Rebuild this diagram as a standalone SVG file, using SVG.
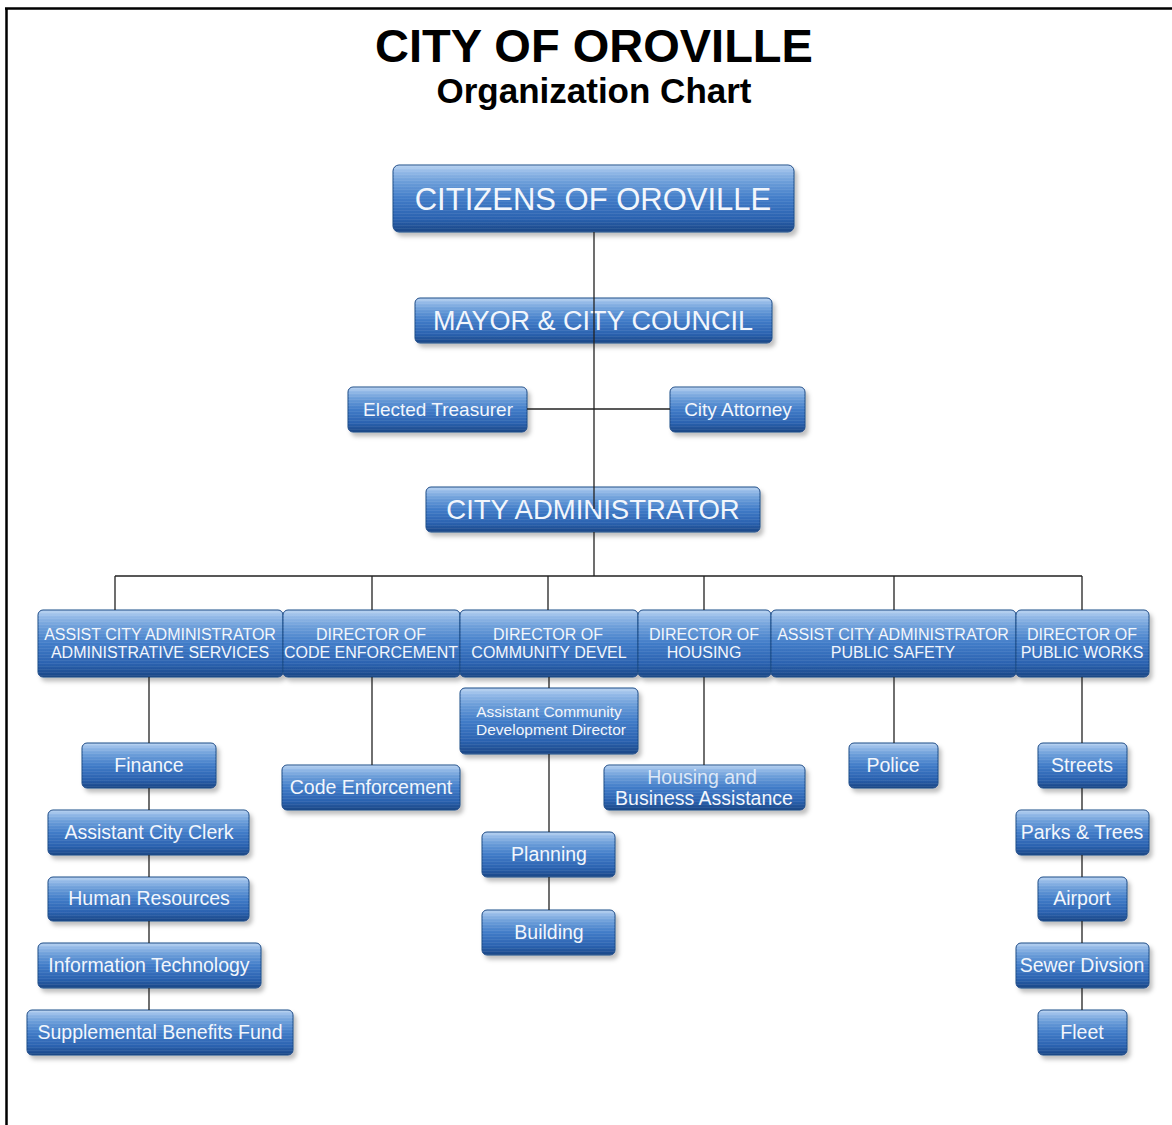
<svg xmlns="http://www.w3.org/2000/svg" width="1172" height="1125" viewBox="0 0 1172 1125">
<style>
.box{fill:url(#bg);stroke:#1d4a86;stroke-width:1;filter:url(#sh)}
.t{font-family:"Liberation Sans",Arial,sans-serif;fill:#f2f6fc;text-anchor:middle}
.title{font-family:"Liberation Sans",Arial,sans-serif;font-weight:bold;fill:#000;text-anchor:middle}
.c{stroke:#222;stroke-width:1.3;fill:none}
</style>
<defs>
<linearGradient id="bg" x1="0" y1="0" x2="0" y2="1">
<stop offset="0" stop-color="#bcd5f2"/>
<stop offset="0.1" stop-color="#93b9e7"/>
<stop offset="0.25" stop-color="#6c9ed9"/>
<stop offset="0.5" stop-color="#417cc8"/>
<stop offset="0.8" stop-color="#2b62b0"/>
<stop offset="1" stop-color="#1a4685"/>
</linearGradient>
<pattern id="stp" width="4" height="3" patternUnits="userSpaceOnUse">
<rect width="4" height="1" fill="#ffffff" fill-opacity="0.07"/>
</pattern>
<filter id="sh" x="-10%" y="-20%" width="130%" height="160%">
<feDropShadow dx="3" dy="4" stdDeviation="2" flood-color="#000" flood-opacity="0.25"/>
</filter>
</defs>
<rect width="1172" height="1125" fill="#fff"/>
<path d="M5 8.5H1172M6.5 8V1125" stroke="#000" stroke-width="2.5" fill="none"/>
<text class="title" x="594" y="62" font-size="47">CITY OF OROVILLE</text>
<text class="title" x="594" y="103" font-size="35">Organization Chart</text>

<g id="nodes">
<g id="citizens"><rect class="box" x="393" y="165" width="401" height="67" rx="6"/><rect x="393" y="165" width="401" height="67" rx="6" fill="url(#stp)"/><text class="t" x="593" y="210" font-size="31">CITIZENS OF OROVILLE</text></g>
<g id="mayor"><rect class="box" x="415" y="298" width="357" height="45" rx="5"/><rect x="415" y="298" width="357" height="45" rx="5" fill="url(#stp)"/><text class="t" x="593" y="330" font-size="27">MAYOR &amp; CITY COUNCIL</text></g>
<g id="treasurer"><rect class="box" x="348" y="387" width="179" height="45" rx="5"/><rect x="348" y="387" width="179" height="45" rx="5" fill="url(#stp)"/><text class="t" x="438" y="416" font-size="19">Elected Treasurer</text></g>
<g id="attorney"><rect class="box" x="670" y="387" width="135" height="45" rx="5"/><rect x="670" y="387" width="135" height="45" rx="5" fill="url(#stp)"/><text class="t" x="738" y="416" font-size="19">City Attorney</text></g>
<g id="cityadmin"><rect class="box" x="426" y="487" width="334" height="45" rx="5"/><rect x="426" y="487" width="334" height="45" rx="5" fill="url(#stp)"/><text class="t" x="593" y="519" font-size="27.5">CITY ADMINISTRATOR</text></g>

<g id="adminsvc"><rect class="box" x="38" y="610" width="245" height="67" rx="5"/><rect x="38" y="610" width="245" height="67" rx="5" fill="url(#stp)"/><text class="t" x="160" y="639.5" font-size="16">ASSIST CITY ADMINISTRATOR</text><text class="t" x="160" y="657.5" font-size="16">ADMINISTRATIVE SERVICES</text></g>
<g id="codedir"><rect class="box" x="283" y="610" width="177" height="67" rx="5"/><rect x="283" y="610" width="177" height="67" rx="5" fill="url(#stp)"/><text class="t" x="371" y="639.5" font-size="16">DIRECTOR OF</text><text class="t" x="371" y="657.5" font-size="16">CODE ENFORCEMENT</text></g>
<g id="commdev"><rect class="box" x="460" y="610" width="178" height="67" rx="5"/><rect x="460" y="610" width="178" height="67" rx="5" fill="url(#stp)"/><text class="t" x="548" y="639.5" font-size="16">DIRECTOR OF</text><text class="t" x="549" y="657.5" font-size="16">COMMUNITY DEVEL</text></g>
<g id="housingdir"><rect class="box" x="638" y="610" width="133" height="67" rx="5"/><rect x="638" y="610" width="133" height="67" rx="5" fill="url(#stp)"/><text class="t" x="704" y="639.5" font-size="16">DIRECTOR OF</text><text class="t" x="704" y="657.5" font-size="16">HOUSING</text></g>
<g id="publicsafety"><rect class="box" x="771" y="610" width="245" height="67" rx="5"/><rect x="771" y="610" width="245" height="67" rx="5" fill="url(#stp)"/><text class="t" x="893" y="639.5" font-size="16">ASSIST CITY ADMINISTRATOR</text><text class="t" x="893" y="657.5" font-size="16">PUBLIC SAFETY</text></g>
<g id="publicworks"><rect class="box" x="1016" y="610" width="133" height="67" rx="5"/><rect x="1016" y="610" width="133" height="67" rx="5" fill="url(#stp)"/><text class="t" x="1082" y="639.5" font-size="16">DIRECTOR OF</text><text class="t" x="1082" y="657.5" font-size="16">PUBLIC WORKS</text></g>

<g id="finance"><rect class="box" x="82" y="743" width="134" height="45" rx="5"/><rect x="82" y="743" width="134" height="45" rx="5" fill="url(#stp)"/><text class="t" x="149" y="772" font-size="19.5">Finance</text></g>
<g id="clerk"><rect class="box" x="48" y="810" width="201" height="45" rx="5"/><rect x="48" y="810" width="201" height="45" rx="5" fill="url(#stp)"/><text class="t" x="149" y="839" font-size="19.5">Assistant City Clerk</text></g>
<g id="hr"><rect class="box" x="48" y="877" width="201" height="44" rx="5"/><rect x="48" y="877" width="201" height="44" rx="5" fill="url(#stp)"/><text class="t" x="149" y="905" font-size="19.5">Human Resources</text></g>
<g id="it"><rect class="box" x="38" y="943" width="223" height="45" rx="5"/><rect x="38" y="943" width="223" height="45" rx="5" fill="url(#stp)"/><text class="t" x="149" y="972" font-size="19.5">Information Technology</text></g>
<g id="sbf"><rect class="box" x="27" y="1010" width="266" height="45" rx="5"/><rect x="27" y="1010" width="266" height="45" rx="5" fill="url(#stp)"/><text class="t" x="160" y="1039" font-size="19.5">Supplemental Benefits Fund</text></g>

<g id="codeenf"><rect class="box" x="282" y="765" width="178" height="45" rx="5"/><rect x="282" y="765" width="178" height="45" rx="5" fill="url(#stp)"/><text class="t" x="371" y="794" font-size="19.5">Code Enforcement</text></g>

<g id="asstcomm"><rect class="box" x="460" y="688" width="178" height="66" rx="5"/><rect x="460" y="688" width="178" height="66" rx="5" fill="url(#stp)"/><text class="t" x="549" y="716.5" font-size="15.5">Assistant Community</text><text class="t" x="551" y="734.5" font-size="15.5">Development Director</text></g>
<g id="planning"><rect class="box" x="482" y="832" width="133" height="45" rx="5"/><rect x="482" y="832" width="133" height="45" rx="5" fill="url(#stp)"/><text class="t" x="549" y="861" font-size="19.5">Planning</text></g>
<g id="building"><rect class="box" x="482" y="910" width="133" height="45" rx="5"/><rect x="482" y="910" width="133" height="45" rx="5" fill="url(#stp)"/><text class="t" x="549" y="939" font-size="19.5">Building</text></g>

<g id="housingbiz"><rect class="box" x="604" y="765" width="201" height="45" rx="5"/><rect x="604" y="765" width="201" height="45" rx="5" fill="url(#stp)"/><text class="t" x="702" y="784" font-size="19.5" fill-opacity="0.85">Housing and</text><text class="t" x="704" y="805" font-size="19.5">Business Assistance</text></g>

<g id="police"><rect class="box" x="849" y="743" width="89" height="45" rx="5"/><rect x="849" y="743" width="89" height="45" rx="5" fill="url(#stp)"/><text class="t" x="893" y="772" font-size="19.5">Police</text></g>

<g id="streets"><rect class="box" x="1038" y="743" width="89" height="45" rx="5"/><rect x="1038" y="743" width="89" height="45" rx="5" fill="url(#stp)"/><text class="t" x="1082" y="772" font-size="19.5">Streets</text></g>
<g id="parks"><rect class="box" x="1016" y="810" width="133" height="45" rx="5"/><rect x="1016" y="810" width="133" height="45" rx="5" fill="url(#stp)"/><text class="t" x="1082" y="839" font-size="19.5">Parks &amp; Trees</text></g>
<g id="airport"><rect class="box" x="1038" y="877" width="89" height="44" rx="5"/><rect x="1038" y="877" width="89" height="44" rx="5" fill="url(#stp)"/><text class="t" x="1082" y="905" font-size="19.5">Airport</text></g>
<g id="sewer"><rect class="box" x="1016" y="943" width="133" height="45" rx="5"/><rect x="1016" y="943" width="133" height="45" rx="5" fill="url(#stp)"/><text class="t" x="1082" y="972" font-size="19.5">Sewer Divsion</text></g>
<g id="fleet"><rect class="box" x="1038" y="1010" width="89" height="45" rx="5"/><rect x="1038" y="1010" width="89" height="45" rx="5" fill="url(#stp)"/><text class="t" x="1082" y="1039" font-size="19.5">Fleet</text></g>
</g>

<g id="connectors">
<path class="c" d="M594 232V509M594 532V576"/>
<path class="c" d="M527 409H670"/>
<path class="c" d="M115 576H1082M115 576V610M372 576V610M548 576V610M704 576V610M894 576V610M1082 576V610"/>
<path class="c" d="M149 677V743M149 788V810M149 855V877M149 921V943M149 988V1010"/>
<path class="c" d="M372 677V765"/>
<path class="c" d="M549 677V688M549 754V832M549 877V910"/>
<path class="c" d="M704 677V765"/>
<path class="c" d="M894 677V743"/>
<path class="c" d="M1082 677V743M1082 788V810M1082 855V877M1082 921V943M1082 988V1010"/>
</g>
</svg>
